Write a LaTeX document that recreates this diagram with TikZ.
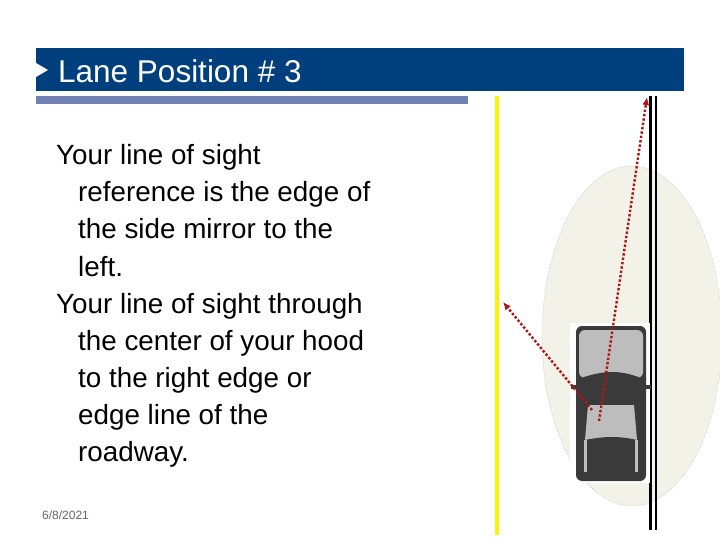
\documentclass[tikz,border=0pt]{standalone}
\usepackage{fontspec}
\setmainfont{Liberation Sans}
\definecolor{hdr}{HTML}{003F7D}
\definecolor{sub}{HTML}{7080B0}
\definecolor{ell}{HTML}{F3F2E8}
\definecolor{sight}{HTML}{B01515}
\definecolor{carl}{HTML}{BDBDBD}
\definecolor{card}{HTML}{3A3A3A}
\usetikzlibrary{arrows.meta}
\begin{document}
\begin{tikzpicture}[x=1pt,y=-1pt,
  txt/.style={anchor=base west,inner sep=0,font=\fontsize{27.8}{30}\selectfont},
  sightline/.style={sight,line width=2.4pt,dotted,-{Latex[length=8pt,width=7pt]}}]
\useasboundingbox (0,0) rectangle (720,540);
\fill[white] (0,0) rectangle (720,540);
% header
\fill[hdr] (36,48) rectangle (684,91);
\fill[sub] (36,96) rectangle (468,104);
\fill[white] (36,63) -- (48,70) -- (36,77) -- cycle;
\node[anchor=west,inner sep=0,text=white,font=\fontsize{31.5}{34}\selectfont] (title) at (58,71) {Lane Position \# 3};
% body text
\node[txt] (l1) at (56,165) {Your line of sight};
\node[txt] (l2) at (78,202) {reference is the edge of};
\node[txt] (l3) at (78,239) {the side mirror to the};
\node[txt] (l4) at (78,276) {left.};
\node[txt] (l5) at (56,313) {Your line of sight through};
\node[txt] (l6) at (78,350) {the center of your hood};
\node[txt] (l7) at (78,387) {to the right edge or};
\node[txt] (l8) at (78,424) {edge line of the};
\node[txt] (l9) at (78,461) {roadway.};
\node[anchor=west,inner sep=0,text=gray!80!black,font=\fontsize{12}{13}\selectfont] (date) at (42,515) {6/8/2021};
% road
\begin{scope}
\clip (500,96) rectangle (720,505);
\fill[ell] (632,336) ellipse [x radius=90, y radius=170];
\draw[gray!70,densely dotted,line width=0.4pt] (632,336) ellipse [x radius=90, y radius=170];
\end{scope}
\fill[yellow] (495,96) rectangle (499,535);
\fill[black] (649,96) rectangle (651.5,530);
\fill[black] (654.5,96) rectangle (657,530);
% car
\fill[white] (570,323) rectangle (650,483);
\fill[card,rounded corners=6pt] (576,326) rectangle (646,481);
\fill[carl,rounded corners=6pt] (579,330) rectangle (643,378);
\fill[card] (581,378) .. controls (605,370) and (620,370) .. (641,378) -- (634,405) -- (588,405) -- cycle;
\fill[carl] (588,405) -- (634,405) -- (637,440) -- (585,440) -- cycle;
\fill[card] (585,440) .. controls (605,436) and (620,436) .. (637,440) -- (636,475) -- (586,475) -- cycle;
\fill[carl] (584,440) rectangle (587,472);
\fill[carl] (635,440) rectangle (638,472);
\fill[card] (571,385) rectangle (577,389);
\fill[card] (645,385) rectangle (651,389);
% sight lines
\coordinate (eye) at (599,421);
\coordinate (edge) at (647,97);
\coordinate (mir) at (592,410);
\coordinate (left) at (503,302);
\draw[sightline] (eye) -- (edge);
\draw[sightline] (mir) -- (left);
\end{tikzpicture}
\end{document}
